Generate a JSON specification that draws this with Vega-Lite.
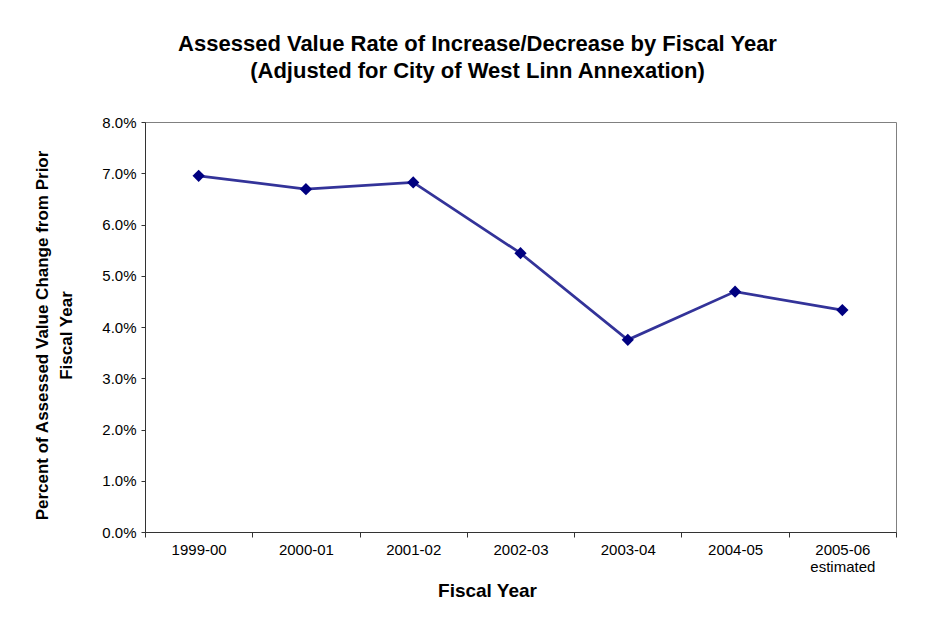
{
  "$schema": "https://vega.github.io/schema/vega-lite/v6.json",
  "width": 751,
  "height": 410,
  "autosize": {"type": "none"},
  "padding": {"left": 145, "top": 122, "right": 52, "bottom": 98},
  "background": "white",
  "title": {
    "text": ["Assessed Value Rate of Increase/Decrease by Fiscal Year", "(Adjusted for City of West Linn Annexation)"],
    "anchor": "middle",
    "frame": "group",
    "dx": -43,
    "offset": 32,
    "font": "Liberation Sans",
    "fontSize": 22,
    "fontWeight": "bold",
    "lineHeight": 27,
    "color": "#000000"
  },
  "config": {
    "view": {"stroke": "#808080", "strokeWidth": 1},
    "axis": {
      "labelFont": "Liberation Sans",
      "titleFont": "Liberation Sans",
      "labelColor": "#000000",
      "titleColor": "#000000",
      "domainColor": "#333333",
      "tickColor": "#333333",
      "grid": false
    }
  },
  "data": {
    "values": [
      {"year": "1999-00", "pct": 0.0695},
      {"year": "2000-01", "pct": 0.0669},
      {"year": "2001-02", "pct": 0.0682},
      {"year": "2002-03", "pct": 0.0544},
      {"year": "2003-04", "pct": 0.0375},
      {"year": "2004-05", "pct": 0.0469},
      {"year": "2005-06", "pct": 0.0433}
    ]
  },
  "encoding": {
    "x": {
      "field": "year",
      "type": "nominal",
      "sort": null,
      "scale": {"type": "band", "paddingInner": 0, "paddingOuter": 0},
      "axis": {
        "title": "Fiscal Year",
        "titleFontSize": 19,
        "titleFontWeight": "bold",
        "titleX": 342,
        "titleY": 64,
        "titleBaseline": "alphabetic",
        "titleAlign": "center",
        "labelAngle": 0,
        "labelFontSize": 15,
        "labelPadding": 5,
        "labelLineHeight": 17,
        "tickSize": 5,
        "tickBand": "extent",
        "labelExpr": "datum.value == '2005-06' ? ['2005-06', 'estimated'] : datum.value"
      }
    },
    "y": {
      "field": "pct",
      "type": "quantitative",
      "scale": {"domain": [0, 0.08], "nice": false, "zero": true},
      "axis": {
        "title": ["Percent of Assessed Value Change from Prior", "Fiscal Year"],
        "titleFontSize": 17,
        "titleFontWeight": "bold",
        "titleLineHeight": 24,
        "titleAngle": -90,
        "titleBaseline": "top",
        "titleAlign": "center",
        "titleX": -111,
        "titleY": 213,
        "values": [0, 0.01, 0.02, 0.03, 0.04, 0.05, 0.06, 0.07, 0.08],
        "format": ".1%",
        "labelFontSize": 15,
        "labelPadding": 5,
        "tickSize": 4
      }
    }
  },
  "layer": [
    {"mark": {"type": "line", "color": "#333399", "strokeWidth": 2.7}},
    {"mark": {"type": "point", "shape": "diamond", "filled": true, "color": "#000080", "size": 150, "opacity": 1}}
  ]
}
